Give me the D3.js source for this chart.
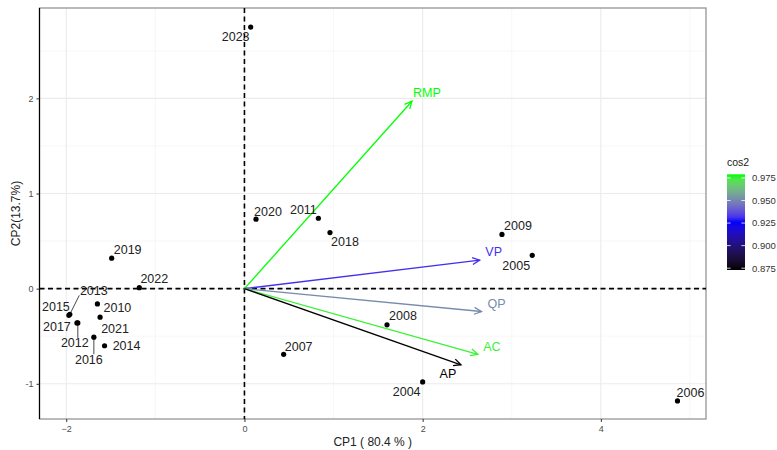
<!DOCTYPE html>
<html lang="en">
  <head>
    <meta charset="UTF-8" />
    <title>PCA biplot</title>
    <script src="https://d3js.org/d3.v7.min.js"></script>
    <style>
      body { margin: 0; background: #fff; }
      text { font-family: "Liberation Sans", Arial, sans-serif; }
    </style>
  </head>
  <body></body>
  <script>
    // individuals (years) on CP1 / CP2
    var years = ["2023", "2020", "2011", "2018", "2009", "2005", "2019", "2022",
      "2013", "2015", "2010", "2017", "2012", "2021", "2016", "2014",
      "2008", "2007", "2004", "2006"];
    var cp1 = [0.07, 0.13, 0.83, 0.96, 2.89, 3.23, -1.49, -1.18,
      -1.96, -1.97, -1.65, -1.88, -1.87, -1.62, -1.69, -1.57,
      1.60, 0.44, 2.00, 4.86];
    var cp2 = [2.75, 0.73, 0.74, 0.59, 0.57, 0.35, 0.32, 0.01,
      -0.27, -0.28, -0.16, -0.36, -0.36, -0.30, -0.51, -0.60,
      -0.38, -0.69, -0.98, -1.18];
    // label displacement (px) as placed by the repel step
    var labelNudge = [[-15, 10], [12, -8], [-15, -9], [15, 9], [16, -9], [-16, 10], [16, -9], [15, -9],
      [24, -24], [-13, -9], [20, 4], [-20, 4], [-3, 20], [15, 11], [-5, 22], [22, 0],
      [16, -9], [15, -8], [-16, 10], [13, -8]];

    // variables
    var variables = ["RMP", "VP", "QP", "AC", "AP"];
    var varCP1 = [1.88, 2.64, 2.66, 2.62, 2.43];
    var varCP2 = [1.97, 0.30, -0.24, -0.69, -0.80];
    var cos2 = [0.979, 0.931, 0.951, 0.976, 0.873];
    var varNudge = [[15, -9], [14, -8], [15, -8], [14, -8], [-13, 9]];

    var xTicks = [-2, 0, 2, 4];
    var yTicks = [-1, 0, 1, 2];
    var cosTicks = [0.875, 0.9, 0.925, 0.95, 0.975];

    var W = 777, H = 450;
    var margin = { top: 8, right: 71, bottom: 31, left: 39.5 };
    var pw = W - margin.left - margin.right,
      ph = H - margin.top - margin.bottom;

    var x = d3.scaleLinear().domain([-2.3, 5.18]).range([0, pw]);
    var y = d3.scaleLinear().domain([-1.37, 2.95]).range([ph, 0]);

    var cExt = d3.extent(cos2);
    var color = d3.scaleLinear()
      .domain([cExt[0], (cExt[0] + cExt[1]) / 2, cExt[1]])
      .range(["#000000", "#0000ff", "#00ff00"])
      .interpolate(d3.interpolateLab);

    var svg = d3.select("body").append("svg")
      .attr("width", W).attr("height", H);
    svg.append("rect").attr("width", W).attr("height", H).attr("fill", "#fff");

    var g = svg.append("g")
      .attr("transform", "translate(" + margin.left + "," + margin.top + ")");

    // grid
    var xMinor = d3.range(-2, 5.5, 1).filter(v => xTicks.indexOf(v) < 0);
    var yMinor = d3.range(-1, 3, 0.5).filter(v => yTicks.indexOf(v) < 0);
    g.selectAll(".gxm").data(xMinor).join("line")
      .attr("x1", x).attr("x2", x).attr("y1", 0).attr("y2", ph)
      .attr("stroke", "#f2f2f2").attr("stroke-width", 0.6);
    g.selectAll(".gym").data(yMinor).join("line")
      .attr("y1", y).attr("y2", y).attr("x1", 0).attr("x2", pw)
      .attr("stroke", "#f2f2f2").attr("stroke-width", 0.6);
    g.selectAll(".gx").data(xTicks).join("line")
      .attr("x1", x).attr("x2", x).attr("y1", 0).attr("y2", ph)
      .attr("stroke", "#ebebeb").attr("stroke-width", 1.1);
    g.selectAll(".gy").data(yTicks).join("line")
      .attr("y1", y).attr("y2", y).attr("x1", 0).attr("x2", pw)
      .attr("stroke", "#ebebeb").attr("stroke-width", 1.1);

    // panel border
    g.append("rect").attr("width", pw).attr("height", ph)
      .attr("fill", "none").attr("stroke", "#8c8c8c").attr("stroke-width", 1.2);
    g.append("line").attr("x1", 0).attr("x2", 0).attr("y1", 0).attr("y2", ph)
      .attr("stroke", "#000").attr("stroke-width", 1.2);

    // axes
    var xAxis = g.append("g").attr("transform", "translate(0," + ph + ")")
      .call(d3.axisBottom(x).tickValues(xTicks).tickFormat(d3.format("d")).tickSize(3).tickPadding(4));
    var yAxis = g.append("g")
      .call(d3.axisLeft(y).tickValues(yTicks).tickFormat(d3.format("d")).tickSize(3).tickPadding(3));
    [xAxis, yAxis].forEach(a => {
      a.select(".domain").remove();
      a.selectAll(".tick line").attr("stroke", "#333").attr("stroke-width", 1);
      a.selectAll(".tick text").attr("fill", "#4d4d4d").attr("font-size", 9)
        .attr("font-family", "Liberation Sans, Arial, sans-serif");
    });
    yAxis.selectAll(".tick text").text(d => d < 0 ? "-" + Math.abs(d) : d);

    // zero lines
    g.append("line").attr("x1", x(0)).attr("x2", x(0)).attr("y1", 0).attr("y2", ph)
      .attr("stroke", "#000").attr("stroke-width", 1.6).attr("stroke-dasharray", "5,3.5");
    g.append("line").attr("y1", y(0)).attr("y2", y(0)).attr("x1", 0).attr("x2", pw)
      .attr("stroke", "#000").attr("stroke-width", 1.6).attr("stroke-dasharray", "5,3.5");

    // variable arrows
    var vars = variables.map((v, i) => ({ name: v, x: varCP1[i], y: varCP2[i], c: cos2[i], n: varNudge[i] }));
    var va = g.append("g");
    vars.forEach(d => {
      var x0 = x(0), y0 = y(0), x1 = x(d.x), y1 = y(d.y);
      var col = color(d.c);
      va.append("line").attr("x1", x0).attr("y1", y0).attr("x2", x1).attr("y2", y1)
        .attr("stroke", col).attr("stroke-width", 1.3);
      var ang = Math.atan2(y1 - y0, x1 - x0), L = 8, a = Math.PI / 7;
      var p1 = [x1 - L * Math.cos(ang - a), y1 - L * Math.sin(ang - a)];
      var p2 = [x1 - L * Math.cos(ang + a), y1 - L * Math.sin(ang + a)];
      va.append("path")
        .attr("d", "M" + p1 + "L" + [x1, y1] + "L" + p2)
        .attr("fill", "none").attr("stroke", col).attr("stroke-width", 1.3);
      va.append("text").attr("x", x1 + d.n[0]).attr("y", y1 + d.n[1])
        .attr("dy", "0.35em").attr("text-anchor", "middle")
        .attr("font-size", 12.5).attr("fill", col).text(d.name);
    });

    // individuals
    var pts = years.map((yr, i) => ({ name: yr, x: cp1[i], y: cp2[i], n: labelNudge[i] }));
    var pg = g.append("g");
    pts.forEach(d => {
      var px = x(d.x), py = y(d.y);
      var lx = px + d.n[0], ly = py + d.n[1];
      // segment when label sits away from its point
      var hw = 14.5, hh = 5;
      var dx = Math.max(Math.abs(px - lx) - hw, 0), dy = Math.max(Math.abs(py - ly) - hh, 0);
      if (Math.hypot(dx, dy) > 10) {
        var ex = Math.max(lx - hw, Math.min(px, lx + hw));
        var ey = Math.max(ly - hh, Math.min(py, ly + hh));
        var ang = Math.atan2(ey - py, ex - px);
        pg.append("line")
          .attr("x1", px + 2 * Math.cos(ang)).attr("y1", py + 2 * Math.sin(ang))
          .attr("x2", ex).attr("y2", ey)
          .attr("stroke", "#333").attr("stroke-width", 0.9);
      }
      pg.append("circle").attr("cx", px).attr("cy", py).attr("r", 2.6).attr("fill", "#000");
      pg.append("text").attr("x", lx).attr("y", ly).attr("dy", "0.35em")
        .attr("text-anchor", "middle").attr("font-size", 12.5).attr("fill", "#222")
        .text(d.name);
    });

    // axis titles
    svg.append("text").attr("x", margin.left + pw / 2).attr("y", 446)
      .attr("text-anchor", "middle").attr("font-size", 12).attr("fill", "#222")
      .text("CP1 ( 80.4 % )");
    svg.append("text")
      .attr("transform", "translate(20," + (margin.top + ph / 2) + ") rotate(-90)")
      .attr("text-anchor", "middle").attr("font-size", 12).attr("fill", "#222")
      .text("CP2(13.7%)");

    // legend colourbar
    var lg = svg.append("g").attr("transform", "translate(727,0)");
    var ly = d3.scaleLinear().domain(cExt).range([270, 174.3]);
    var grad = svg.append("defs").append("linearGradient").attr("id", "cbar")
      .attr("x1", 0).attr("y1", 1).attr("x2", 0).attr("y2", 0);
    d3.range(0, 1.0001, 0.05).forEach(t => {
      grad.append("stop").attr("offset", t)
        .attr("stop-color", color(cExt[0] + t * (cExt[1] - cExt[0])));
    });
    lg.append("text").attr("x", 0).attr("y", 166).attr("font-size", 10.5).attr("fill", "#222").text("cos2");
    lg.append("rect").attr("x", 0).attr("y", ly(cExt[1])).attr("width", 18)
      .attr("height", ly(cExt[0]) - ly(cExt[1])).attr("fill", "url(#cbar)");
    cosTicks.forEach(v => {
      lg.append("line").attr("x1", 0).attr("x2", 3.6).attr("y1", ly(v)).attr("y2", ly(v))
        .attr("stroke", "#fff").attr("stroke-opacity", 0.8);
      lg.append("line").attr("x1", 14.4).attr("x2", 18).attr("y1", ly(v)).attr("y2", ly(v))
        .attr("stroke", "#fff").attr("stroke-opacity", 0.8);
      lg.append("text").attr("x", 25).attr("y", ly(v)).attr("dy", "0.35em")
        .attr("font-size", 9.5).attr("fill", "#333").text(d3.format(".3f")(v));
    });
  </script>
</html>
